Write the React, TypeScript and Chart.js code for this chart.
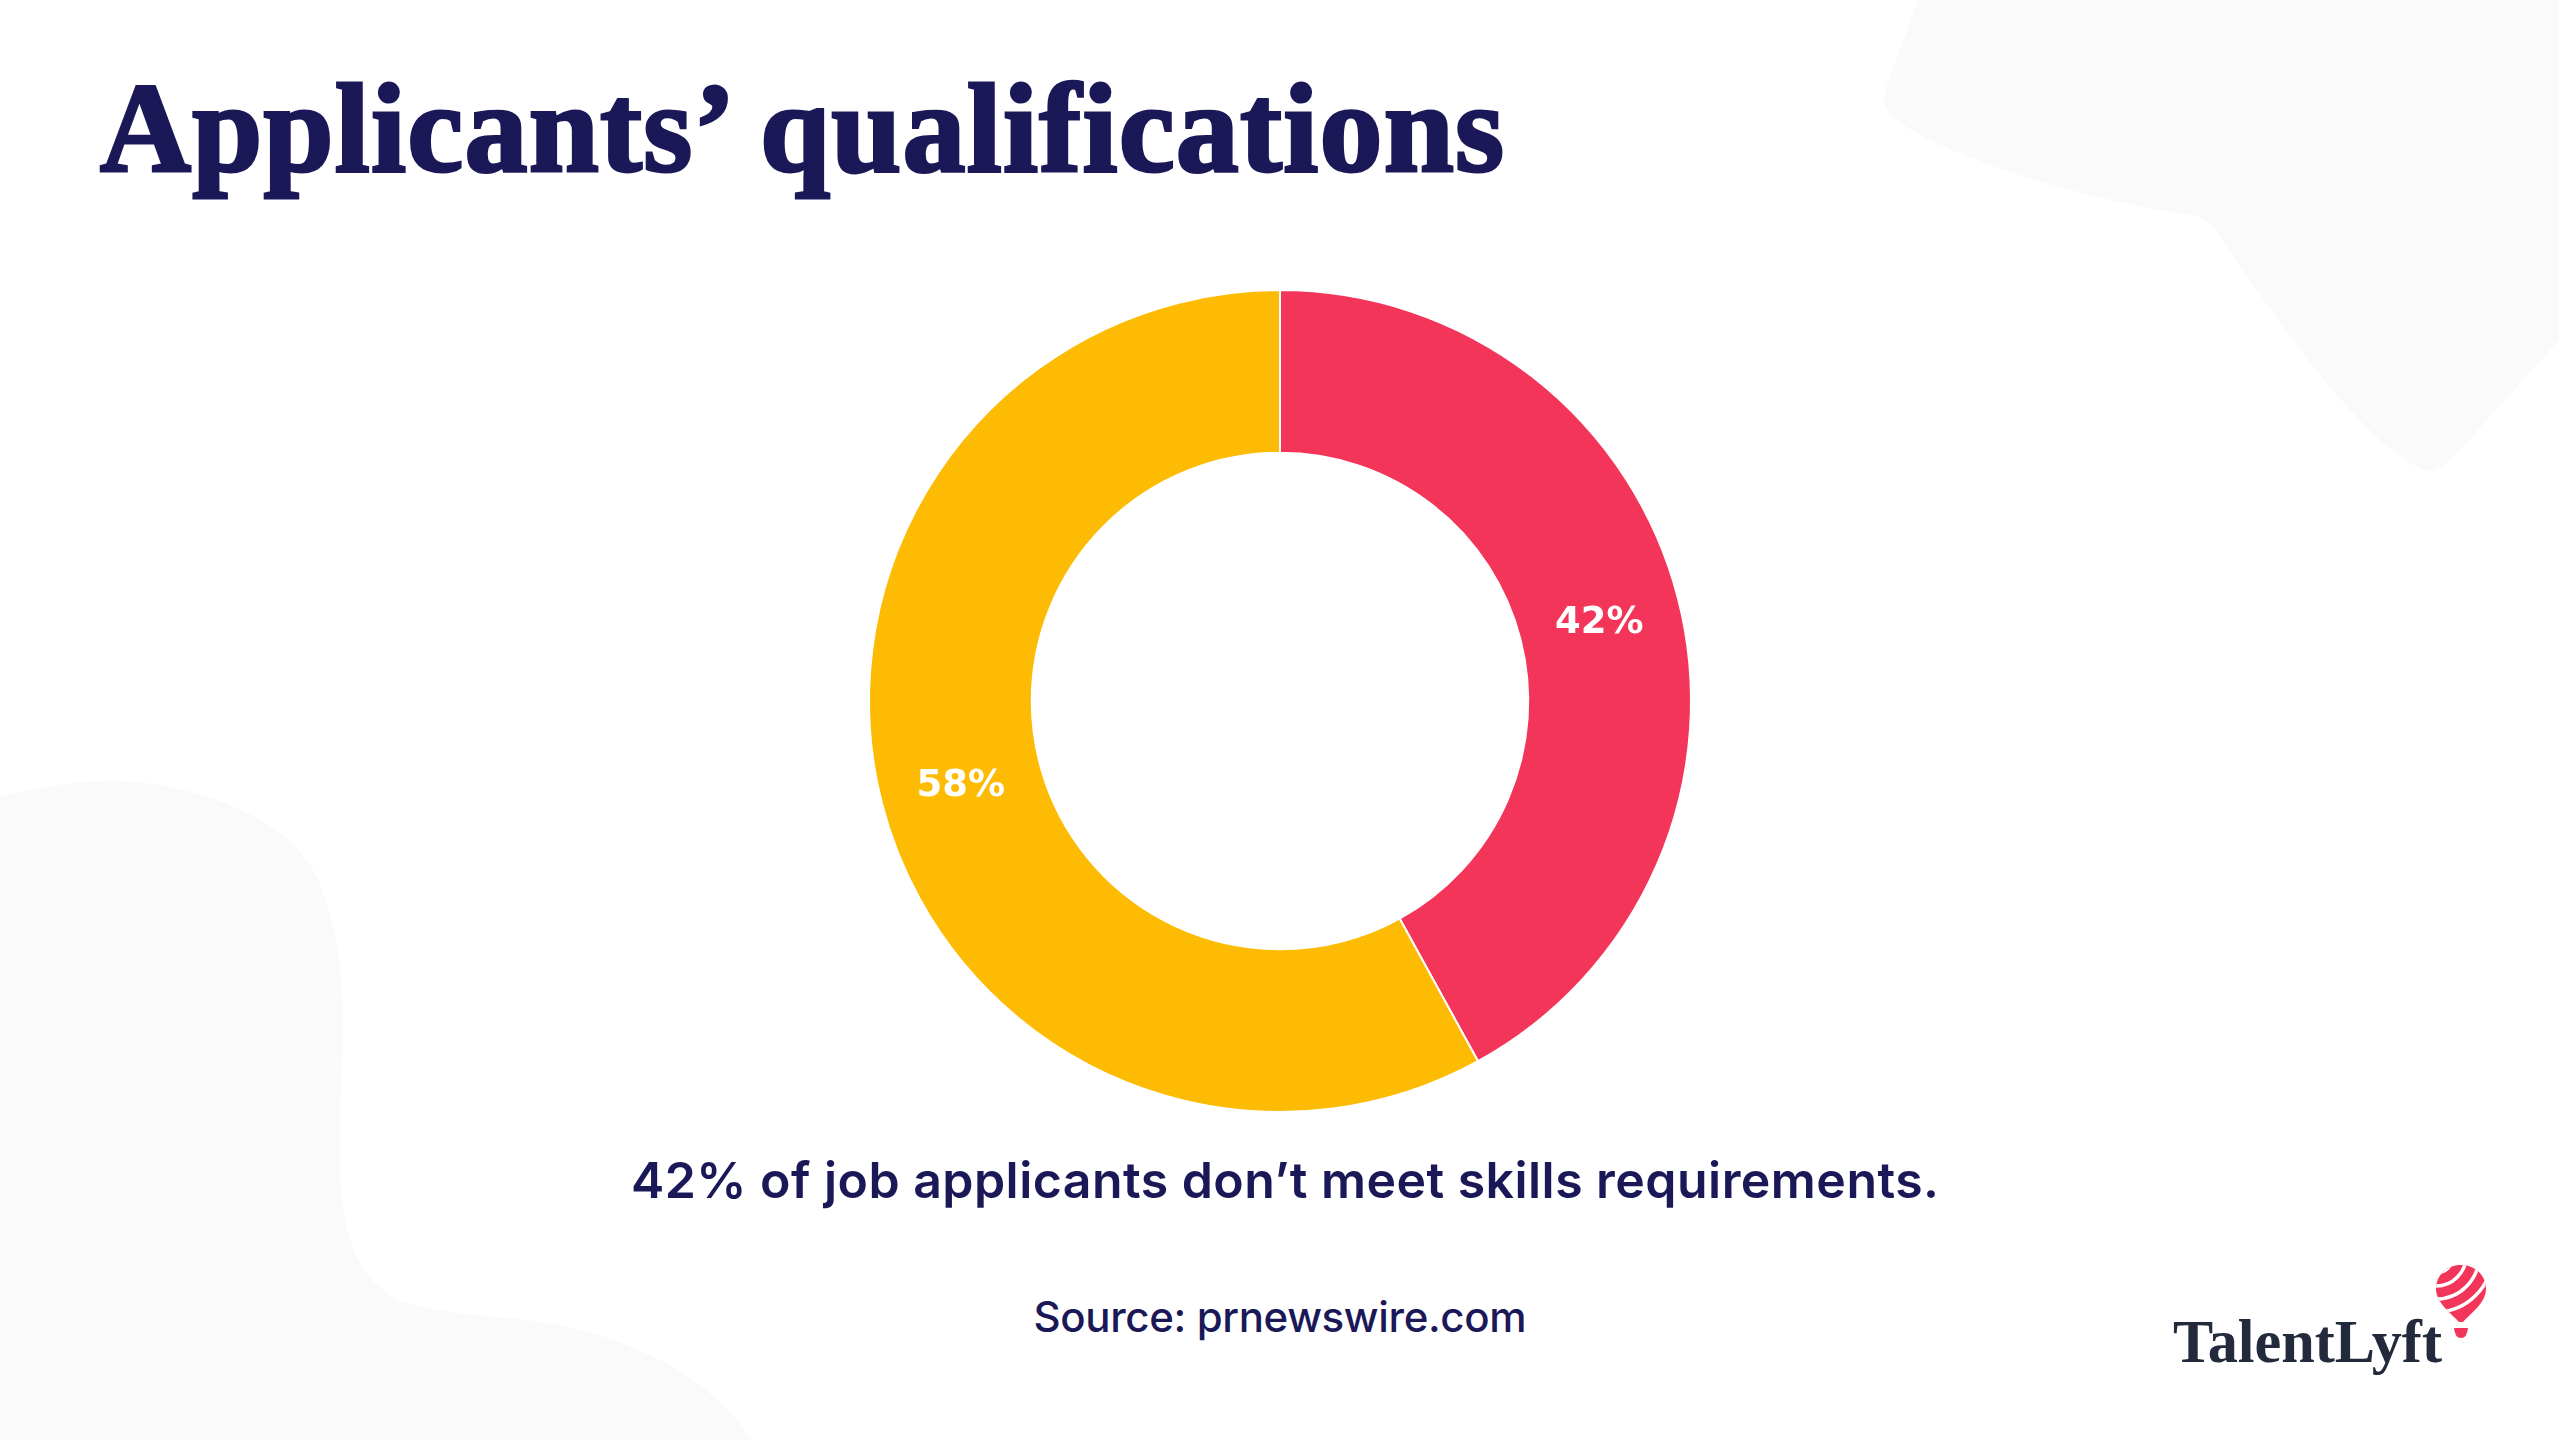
import React, { useEffect, useRef } from "react";
import { Chart, registerables } from "chart.js";

Chart.register(...registerables);

// Share of job applicants by whether they meet skills requirements
const categories = ["Don't meet skills requirements", "Meet skills requirements"];
const values = [42, 58];
const sliceColors = ["#F3355A", "#FEBB04"];

const titleText = "Applicants\u2019 qualifications";
const subtitleText = "42% of job applicants don\u2019t meet skills requirements.";
const sourceText = "Source: prnewswire.com";
const brandText = "TalentLyft";

const NAVY = "#1B1858";
const LABEL_SIZE = 37;

// Writes each slice's percentage at the middle of its arc,
// centring the digits' cap height on the arc's mid point
const sliceLabels = {
  id: "sliceLabels",
  afterDatasetsDraw(chart: any) {
    const { ctx } = chart;
    const meta = chart.getDatasetMeta(0);
    ctx.save();
    ctx.fillStyle = "#FFFFFF";
    ctx.font = `bold ${LABEL_SIZE}px 'DejaVu Sans'`;
    ctx.textAlign = "center";
    ctx.textBaseline = "alphabetic";
    const capHalf = (LABEL_SIZE * 0.729) / 2;
    meta.data.forEach((arc: any, i: number) => {
      const p = arc.tooltipPosition();
      ctx.fillText(`${chart.data.datasets[0].data[i]}%`, p.x, p.y + capHalf);
    });
    ctx.restore();
  },
};

function Doughnut() {
  const ref = useRef<HTMLCanvasElement | null>(null);
  useEffect(() => {
    if (!ref.current) return;
    const chart = new Chart(ref.current, {
      type: "doughnut",
      data: {
        labels: categories,
        datasets: [
          {
            data: values,
            backgroundColor: sliceColors,
            borderColor: "#FFFFFF",
            borderWidth: 2,
          },
        ],
      },
      options: {
        animation: false,
        responsive: false,
        maintainAspectRatio: false,
        radius: 411,
        cutout: "60.4%",
        layout: { padding: 0 },
        plugins: {
          legend: { display: false },
          tooltip: { enabled: false },
          title: { display: false },
        },
      } as any,
      plugins: [sliceLabels],
    });
    return () => chart.destroy();
  }, []);
  return (
    <canvas
      ref={ref}
      width={840}
      height={840}
      style={{ position: "absolute", left: 860, top: 281, width: 840, height: 840 }}
    />
  );
}

export default function App() {
  return (
    <div
      style={{
        position: "fixed",
        left: 0,
        top: 0,
        width: 2559,
        height: 1440,
        background: "#FFFFFF",
        overflow: "hidden",
      }}
    >
      <svg
        width={2559}
        height={1440}
        style={{ position: "absolute", left: 0, top: 0 }}
        xmlns="http://www.w3.org/2000/svg"
      >
        {/* soft background blobs */}
        <path
          d="M1918,0 C1905,40 1888,75 1884,98 C1882,112 1900,125 1930,140 C2010,178 2120,205 2195,216 C2210,220 2218,232 2228,248 C2290,340 2370,450 2425,470 C2434,474 2445,466 2460,450 L2559,340 L2559,0 Z"
          fill="#FAFAFA"
        />
        <path
          d="M0,797 C50,784 90,780 120,781 C200,784 285,820 312,868 C338,915 343,980 343,1030 C342,1090 336,1150 342,1200 C348,1250 365,1285 400,1300 C430,1312 470,1314 533,1321 C600,1330 660,1355 700,1385 C725,1405 742,1425 752,1440 L0,1440 Z"
          fill="#FAFAFA"
        />

        <text
          x={100}
          y={171}
          fill={NAVY}
          stroke={NAVY}
          strokeWidth={3}
          fontFamily="'Liberation Serif', serif"
          fontWeight={700}
          fontSize={126}
          textLength={1404}
          lengthAdjust="spacing"
        >
          {titleText}
        </text>

        <text
          x={1285}
          y={1198}
          fill={NAVY}
          fontFamily="Inter, sans-serif"
          fontWeight={600}
          fontSize={50}
          textAnchor="middle"
          textLength={1308}
          lengthAdjust="spacing"
        >
          {subtitleText}
        </text>

        <text
          x={1280}
          y={1332}
          fill={NAVY}
          fontFamily="Inter, sans-serif"
          fontWeight={500}
          fontSize={42}
          textAnchor="middle"
          textLength={493}
          lengthAdjust="spacing"
        >
          {sourceText}
        </text>

        {/* brand mark */}
        <text
          x={2173}
          y={1362}
          fill="#232A3B"
          fontFamily="'Liberation Serif', serif"
          fontWeight={700}
          fontSize={62}
          textLength={269}
          lengthAdjust="spacingAndGlyphs"
        >
          {brandText}
        </text>
        <defs>
          <clipPath id="balloonClip">
            <path d="M2461,1265 C2476,1265 2486,1276 2486,1289 C2486,1303 2470,1314 2463,1322 L2459,1322 C2452,1314 2436,1303 2436,1289 C2436,1276 2446,1265 2461,1265 Z" />
          </clipPath>
        </defs>
        <path
          d="M2461,1265 C2476,1265 2486,1276 2486,1289 C2486,1303 2470,1314 2463,1322 L2459,1322 C2452,1314 2436,1303 2436,1289 C2436,1276 2446,1265 2461,1265 Z"
          fill="#F3355A"
        />
        <g clipPath="url(#balloonClip)" fill="none" stroke="#FFFFFF" strokeWidth={3.5}>
          <circle cx={2436} cy={1256} r={17} />
          <circle cx={2436} cy={1256} r={30} />
          <circle cx={2436} cy={1256} r={43} />
          <circle cx={2436} cy={1256} r={56} />
        </g>
        <path d="M2454,1328 L2468,1328 Q2467,1338 2461,1338 Q2455,1338 2454,1328 Z" fill="#F3355A" />
      </svg>
      <Doughnut />
    </div>
  );
}
